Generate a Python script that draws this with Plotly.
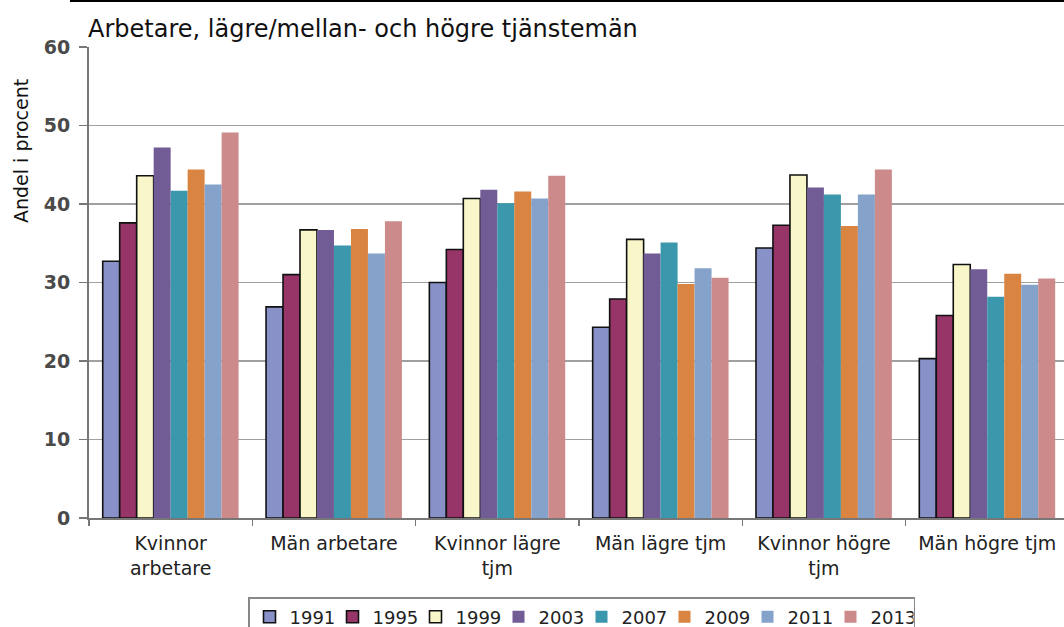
import plotly.graph_objects as go

categories = ["Kvinnor<br>arbetare", "Män arbetare", "Kvinnor lägre<br>tjm",
              "Män lägre tjm", "Kvinnor högre<br>tjm", "Män högre tjm"]
years = ["1991", "1995", "1999", "2003", "2007", "2009", "2011", "2013"]

v1991 = [32.7, 26.9, 30.0, 24.3, 34.4, 20.3]
v1995 = [37.6, 31.0, 34.2, 27.9, 37.3, 25.8]
v1999 = [43.6, 36.7, 40.7, 35.5, 43.7, 32.3]
v2003 = [47.2, 36.7, 41.8, 33.7, 42.1, 31.7]
v2007 = [41.7, 34.7, 40.1, 35.1, 41.2, 28.2]
v2009 = [44.4, 36.8, 41.6, 29.8, 37.2, 31.1]
v2011 = [42.5, 33.7, 40.7, 31.8, 41.2, 29.7]
v2013 = [49.1, 37.8, 43.6, 30.6, 44.4, 30.5]
series = [v1991, v1995, v1999, v2003, v2007, v2009, v2011, v2013]

colors = ["#8891C8", "#973468", "#F9F7C9", "#715C96",
          "#3A97AC", "#DA8442", "#85A2CA", "#CC8A8B"]
outlined = [True, True, True, False, False, False, False, False]

FONT = "DejaVu Sans"

fig = go.Figure()
for yr, vals, col, ol in zip(years, series, colors, outlined):
    fig.add_trace(go.Bar(
        name=yr, x=categories, y=vals,
        marker=dict(color=col,
                    line=dict(color="#111111", width=1.6 if ol else 0)),
    ))

W, H = 1064, 627
ml, mr, mt, mb = 89, 0, 47, 109
ph = H - mt - mb
pw = W - ml - mr

fig.update_layout(
    width=W, height=H,
    margin=dict(l=ml, r=mr, t=mt, b=mb, autoexpand=False),
    paper_bgcolor="white", plot_bgcolor="white",
    barmode="group", bargap=0.168, bargroupgap=0,
    font=dict(family=FONT, color="#222222"),
    title=dict(text="Arbetare, lägre/mellan- och högre tjänstemän",
               xref="container", yref="container",
               x=88 / W, xanchor="left", y=1 - 29 / H, yanchor="middle",
               font=dict(family=FONT, size=24, color="#111111")),
    showlegend=True,
    legend=dict(orientation="h", xref="paper", yref="paper",
                x=(248 - ml) / pw, xanchor="left",
                y=-(597 - (H - mb)) / ph, yanchor="top",
                font=dict(family=FONT, size=18, color="#222222"),
                entrywidth=38, entrywidthmode="pixels",
                bordercolor="#888888", borderwidth=1.5,
                bgcolor="white", traceorder="normal"),
    xaxis=dict(range=[-0.5, 5.47], showgrid=False,
               showline=True, linecolor="#777777", linewidth=2,
               ticks="outside", ticklen=6, tickcolor="#777777", tickwidth=1.5,
               tickson="boundaries", ticklabelstandoff=7,
               tickfont=dict(family=FONT, size=19, color="#222222"),
               fixedrange=True),
    yaxis=dict(range=[0, 60], dtick=10, tick0=0,
               showgrid=True, gridcolor="#A0A0A0", gridwidth=1.6,
               showline=True, linecolor="#777777", linewidth=2,
               ticks="outside", ticklen=8, tickcolor="#777777", tickwidth=1.5,
               zeroline=False, ticklabelstandoff=5,
               tickfont=dict(family=FONT, size=19, color="#4a4a4a", weight="bold"),
               fixedrange=True),
)

fig.add_annotation(text="Andel i procent", textangle=-90,
                   xref="paper", yref="paper",
                   x=(21 - ml) / pw, y=(H - mb - 151) / ph,
                   xanchor="center", yanchor="middle", showarrow=False,
                   font=dict(family=FONT, size=19, color="#111111"))

# thin black border line at top of the image
fig.add_shape(type="line", xref="paper", yref="paper",
              x0=(70 - ml) / pw, x1=1.0,
              y0=1 + (mt - 1) / ph, y1=1 + (mt - 1) / ph,
              line=dict(color="#000000", width=2))

fig.write_html("out.html",
               config={"displayModeBar": False, "staticPlot": True},
               post_script="document.body.style.margin='0px';"
                           "document.body.style.overflow='hidden';")
